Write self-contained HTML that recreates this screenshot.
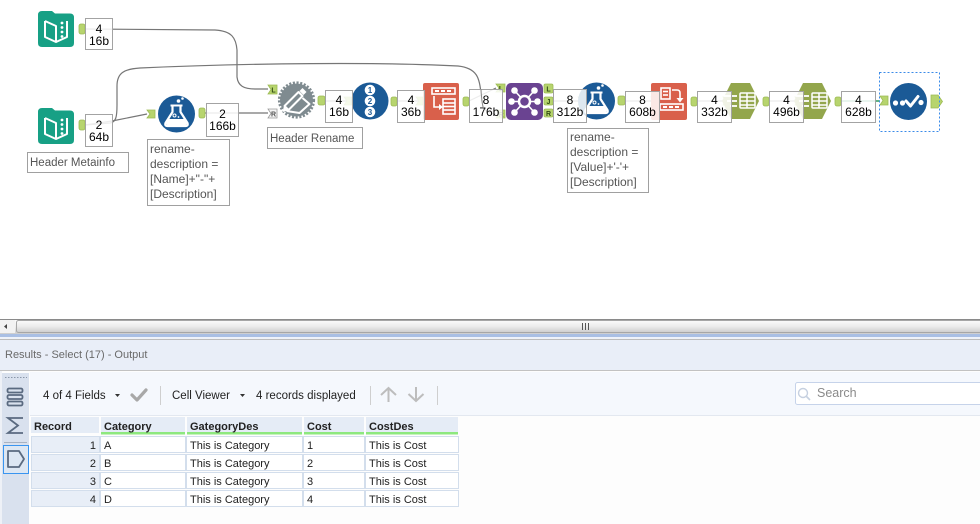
<!DOCTYPE html>
<html><head><meta charset="utf-8"><style>
html,body{margin:0;padding:0;background:#fff;}
svg{display:block;font-family:"Liberation Sans",sans-serif;}
</style></head><body>
<svg width="980" height="524" viewBox="0 0 980 524" xmlns="http://www.w3.org/2000/svg">
<defs>
<linearGradient id="sb" x1="0" y1="0" x2="0" y2="1"><stop offset="0" stop-color="#fbfbfb"/><stop offset="0.5" stop-color="#ebebeb"/><stop offset="1" stop-color="#cdcdcd"/></linearGradient>
</defs>
<rect width="980" height="524" fill="#fff"/>

<!-- ===== connections ===== -->
<g fill="none" stroke="#767676" stroke-width="1.2">
<path d="M85,29 L215,30 C232,31 236,38 237,50 L237,77 C238,86 244,89 255,89 L268,89"/>
<path d="M85,125 L110,123 C116,122 117,117 117,105 L117,86 C117,73 124,69 140,68 C250,63 380,62 458,66 C477,68 480,78 481,95 C482,108 486,114 496,114"/>
<path d="M85,125 L112,121 L147,114"/>
<path d="M205,113 L268,113"/>
<path d="M325,101 L352,101"/>
<path d="M397,101 L424,101"/>
<path d="M469,101 L496,88"/>
<path d="M553,101 L586,101"/>
<path d="M625,101 L659,101"/>
<path d="M697,101 L731,101"/>
<path d="M769,101 L803,101"/>
</g>
<path d="M841,101 L880,101" stroke="#2e9a5c" stroke-width="1.5" fill="none"/>

<!-- ===== anchors ===== -->
<g fill="#b7d46e" stroke="#9dbb55" stroke-width="0.8">
<rect x="79" y="24" width="6" height="10" rx="2"/>
<rect x="79" y="120" width="6" height="10" rx="2"/>
<path d="M147,110 h8 v8 h-8 l3,-4 z"/>
<rect x="199" y="108" width="6" height="10" rx="2"/>
<path d="M268,85 h9 v9 h-9 l3,-4.5 z"/>
<rect x="318" y="96" width="7" height="9" rx="2"/>
<path d="M344,97 h8 v8 h-8 l3,-4 z"/>
<rect x="391" y="97" width="6" height="9" rx="2"/>
<path d="M416,97 h7 v8 h-7 l3,-4 z"/>
<rect x="463" y="97" width="6" height="9" rx="2"/>
<path d="M496,84 h9 v8 h-9 l3,-4 z"/>
<path d="M496,110 h9 v8 h-9 l3,-4 z"/>
<rect x="544" y="84" width="9" height="9" rx="1.5"/>
<rect x="544" y="97" width="9" height="8" rx="1.5"/>
<rect x="544" y="109" width="9" height="8" rx="1.5"/>
<path d="M578,97 h8 v8 h-8 l3,-4 z"/>
<rect x="618" y="96" width="7" height="9" rx="2"/>
<path d="M651,97 h8 v8 h-8 l3,-4 z"/>
<rect x="691" y="97" width="6" height="9" rx="2"/>
<path d="M723,97 h8 v8 h-8 l3,-4 z"/>
<rect x="763" y="97" width="6" height="9" rx="2"/>
<path d="M795,97 h8 v8 h-8 l3,-4 z"/>
<rect x="835" y="97" width="6" height="9" rx="2"/>
<path d="M880,96 h8 v9 h-8 l3,-4.5 z"/>
<path d="M931,95 L938,95 L942.5,101.5 L938,108 L931,108 Z"/>
</g>
<path d="M268,109 h9 v9 h-9 l3,-4.5 z" fill="#f4f4f4" stroke="#9a9a9a" stroke-width="0.8"/>
<g font-size="7" font-weight="bold" fill="#2f4a12" text-anchor="middle">
<text x="273.5" y="92.5">L</text>
<text x="273.5" y="116.5" fill="#555">R</text>
<text x="548.5" y="91.5">L</text>
<text x="548.5" y="104">J</text>
<text x="548.5" y="116">R</text>
<text x="501" y="91">L</text>
<text x="501" y="117">R</text>
</g>

<!-- ===== input icons (teal) ===== -->
<g transform="translate(38,11)">
<path d="M0,4 Q0,0 4,0 L14,0 L17,2.5 L32,2.5 Q36,2.5 36,6.5 L36,32 Q36,36 32,36 L4,36 Q0,36 0,32 Z" fill="#17a085"/>
<path d="M7,10 L7,26 L18,31 L29,26 L29,10" fill="none" stroke="#fff" stroke-width="2" stroke-linejoin="round"/>
<path d="M7,10 L18,15 L18,31" fill="none" stroke="#fff" stroke-width="2" stroke-linejoin="round"/>
<g fill="#fff"><circle cx="24" cy="12" r="1.4"/><circle cx="24" cy="16.5" r="1.4"/><circle cx="24" cy="21" r="1.4"/><circle cx="24" cy="25.5" r="1.4"/></g>
</g>
<g transform="translate(38,108)">
<path d="M0,4 Q0,0 4,0 L14,0 L17,2.5 L32,2.5 Q36,2.5 36,6.5 L36,32 Q36,36 32,36 L4,36 Q0,36 0,32 Z" fill="#17a085"/>
<path d="M7,10 L7,26 L18,31 L29,26 L29,10" fill="none" stroke="#fff" stroke-width="2" stroke-linejoin="round"/>
<path d="M7,10 L18,15 L18,31" fill="none" stroke="#fff" stroke-width="2" stroke-linejoin="round"/>
<g fill="#fff"><circle cx="24" cy="12" r="1.4"/><circle cx="24" cy="16.5" r="1.4"/><circle cx="24" cy="21" r="1.4"/><circle cx="24" cy="25.5" r="1.4"/></g>
</g>

<!-- ===== formula icons ===== -->
<g transform="translate(176.5,114)">
<circle r="18.5" fill="#1b5a96"/>
<path d="M-4,-8 L-4,-2 L-11,9 Q-12,12 -9,12 L9,12 Q12,12 11,9 L4,-2 L4,-8" fill="none" stroke="#fff" stroke-width="2.2" stroke-linejoin="round"/>
<path d="M-8,5 L8,5 L10,9 Q11,11 9,11 L-9,11 Q-11,11 -10,9 Z" fill="#fff"/>
<line x1="-6" y1="-8.5" x2="6" y2="-8.5" stroke="#fff" stroke-width="2"/>
<circle cx="2" cy="-13" r="1.8" fill="#fff"/><circle cx="6" cy="-15.5" r="1.3" fill="#fff"/>
<circle cx="-2" cy="1.5" r="1.5" fill="none" stroke="#fff"/><circle cx="2" cy="3" r="0.9" fill="#fff"/>
</g>
<g transform="translate(596.5,101)">
<circle r="18.5" fill="#1b5a96"/>
<path d="M-4,-8 L-4,-2 L-11,9 Q-12,12 -9,12 L9,12 Q12,12 11,9 L4,-2 L4,-8" fill="none" stroke="#fff" stroke-width="2.2" stroke-linejoin="round"/>
<path d="M-8,5 L8,5 L10,9 Q11,11 9,11 L-9,11 Q-11,11 -10,9 Z" fill="#fff"/>
<line x1="-6" y1="-8.5" x2="6" y2="-8.5" stroke="#fff" stroke-width="2"/>
<circle cx="2" cy="-13" r="1.8" fill="#fff"/><circle cx="6" cy="-15.5" r="1.3" fill="#fff"/>
<circle cx="-2" cy="1.5" r="1.5" fill="none" stroke="#fff"/><circle cx="2" cy="3" r="0.9" fill="#fff"/>
</g>

<!-- ===== dynamic rename ===== -->
<g transform="translate(296.5,100)">
<circle r="16.5" fill="#7f8b90"/>
<circle r="17.3" fill="none" stroke="#7f8b90" stroke-width="2.6" stroke-dasharray="2.1 1.6"/>
<path d="M-12,6 L2,-8 L6,-4 L-8,10 Z" fill="none" stroke="#fff" stroke-width="2" stroke-linejoin="round"/>
<path d="M3,-9 L6,-12 L10,-8 L7,-5 Z" fill="#fff"/>
<path d="M-12,7 L-13,11 L-9,10" fill="#fff" stroke="#fff" stroke-width="1.5"/>
<path d="M-10,11 L3,13 L13,4 L6,-2" fill="none" stroke="#fff" stroke-width="2" stroke-linejoin="round"/>
</g>

<!-- ===== record id ===== -->
<g transform="translate(370,101)">
<circle r="18.5" fill="#1b5a96"/>
<g fill="#fff"><circle cy="-11" r="5.3"/><circle r="5.3"/><circle cy="11" r="5.3"/></g>
<g fill="#1b5a96" font-size="8" font-weight="bold" text-anchor="middle">
<text y="-8">1</text><text y="3">2</text><text y="14">3</text></g>
</g>

<!-- ===== red icon 1 ===== -->
<rect x="423" y="83" width="36" height="37" rx="2" fill="#d9604b"/>
<g stroke="#fff" fill="none" stroke-width="1.6">
<rect x="432" y="88" width="23" height="6"/>
<path d="M434,96 L434,107 L440,107"/>
<rect x="443" y="99" width="12" height="15"/>
<line x1="443" y1="103" x2="455" y2="103"/><line x1="443" y1="106.5" x2="455" y2="106.5"/><line x1="443" y1="110" x2="455" y2="110"/>
</g>
<path d="M439,104 L443,107 L439,110 Z" fill="#fff"/>
<g fill="#fff"><rect x="435" y="90" width="4" height="2"/><rect x="441" y="90" width="4" height="2"/><rect x="447" y="90" width="4" height="2"/></g>

<!-- ===== join ===== -->
<rect x="506" y="83" width="37" height="37" rx="5" fill="#6a4391"/>
<g transform="translate(524.5,101.5)" stroke="#fff" fill="#fff">
<g stroke-width="1.6"><line x1="-10" y1="-11" x2="10" y2="11"/><line x1="10" y1="-11" x2="-10" y2="11"/><line x1="-13" y1="0" x2="13" y2="0"/></g>
<circle r="5.5" fill="#6a4391" stroke-width="2.5"/>
<g stroke="none"><circle cx="-10" cy="-11" r="3.3"/><circle cx="10" cy="-11" r="3.3"/><circle cx="13" cy="0" r="3.3"/><circle cx="-13" cy="0" r="3.3"/><circle cx="10" cy="11" r="3.3"/><circle cx="-10" cy="11" r="3.3"/></g>
</g>

<!-- ===== red icon 2 ===== -->
<rect x="651" y="83" width="36" height="37" rx="2" fill="#d9604b"/>
<g stroke="#fff" fill="none" stroke-width="1.6">
<rect x="661" y="88" width="9" height="11"/>
<line x1="663" y1="91.5" x2="668" y2="91.5"/><line x1="663" y1="95" x2="668" y2="95"/>
<path d="M672,90 L677,90 Q680,90 680,93 L680,99"/>
<rect x="660" y="104" width="23" height="6"/>
</g>
<path d="M676.5,98 L683.5,98 L680,102.5 Z" fill="#fff"/>
<g fill="#fff"><rect x="663" y="106" width="4" height="2"/><rect x="669" y="106" width="4" height="2"/><rect x="675" y="106" width="4" height="2"/></g>

<!-- ===== hexagons ===== -->
<g>
<polygon points="722,101 731,83 750,83 759,101 750,119 731,119" fill="#93a64c"/>
<g stroke="#fff" stroke-width="1.8"><line x1="724" y1="96" x2="737" y2="96"/><line x1="727" y1="101" x2="737" y2="101"/><line x1="730" y1="106" x2="737" y2="106"/></g>
<g stroke="#fff" fill="none" stroke-width="1.5"><rect x="740" y="93" width="15" height="15" rx="1"/><line x1="740" y1="97" x2="755" y2="97"/><line x1="740" y1="101" x2="755" y2="101"/><line x1="740" y1="105" x2="755" y2="105"/><line x1="747" y1="93" x2="747" y2="108"/></g>
</g>
<g>
<polygon points="794,101 803,83 822,83 831,101 822,119 803,119" fill="#93a64c"/>
<g stroke="#fff" stroke-width="1.8"><line x1="796" y1="96" x2="809" y2="96"/><line x1="799" y1="101" x2="809" y2="101"/><line x1="802" y1="106" x2="809" y2="106"/></g>
<g stroke="#fff" fill="none" stroke-width="1.5"><rect x="812" y="93" width="15" height="15" rx="1"/><line x1="812" y1="97" x2="827" y2="97"/><line x1="812" y1="101" x2="827" y2="101"/><line x1="812" y1="105" x2="827" y2="105"/><line x1="819" y1="93" x2="819" y2="108"/></g>
</g>

<!-- ===== select ===== -->
<rect x="879.5" y="72.5" width="60" height="59" fill="none" stroke="#3b8be8" stroke-dasharray="2 2"/>
<circle cx="908.5" cy="101.5" r="18.5" fill="#1b5a96"/>
<g fill="#fff"><circle cx="895.5" cy="103" r="2.6"/><circle cx="902.5" cy="103" r="2.6"/><circle cx="921" cy="102.5" r="2.6"/></g>
<path d="M906,101 L910.5,106 L918,96.5" fill="none" stroke="#fff" stroke-width="3" stroke-linecap="round" stroke-linejoin="round"/>

<!-- ===== count boxes ===== -->
<g font-size="12" fill="#000" text-anchor="middle">
<g fill="#fff" fill-opacity="0.86" stroke="#a3a3a3">
<rect x="85.5" y="18.5" width="27" height="31"/>
<rect x="85.5" y="114.5" width="27" height="32"/>
<rect x="206.5" y="103.5" width="32" height="33"/>
<rect x="325.5" y="90.5" width="27" height="32"/>
<rect x="397.5" y="90.5" width="27" height="32"/>
<rect x="469.5" y="89.5" width="33" height="33"/>
<rect x="553.5" y="89.5" width="33" height="33"/>
<rect x="625.5" y="91.5" width="34" height="31"/>
<rect x="697.5" y="91.5" width="34" height="31"/>
<rect x="769.5" y="91.5" width="34" height="31"/>
<rect x="841.5" y="91.5" width="34" height="31"/>
</g>
<text x="99" y="33">4</text><text x="99" y="45">16b</text>
<text x="99" y="129">2</text><text x="99" y="141">64b</text>
<text x="222.5" y="118">2</text><text x="222.5" y="130">166b</text>
<text x="339" y="104">4</text><text x="339" y="116">16b</text>
<text x="411" y="104">4</text><text x="411" y="116">36b</text>
<text x="486" y="104">8</text><text x="486" y="116">176b</text>
<text x="570" y="104">8</text><text x="570" y="116">312b</text>
<text x="642.5" y="104">8</text><text x="642.5" y="116">608b</text>
<text x="714.5" y="104">4</text><text x="714.5" y="116">332b</text>
<text x="786.5" y="104">4</text><text x="786.5" y="116">496b</text>
<text x="858.5" y="104">4</text><text x="858.5" y="116">628b</text>
</g>
<path d="M481,89 C481.5,98 482,106 484,110" fill="none" stroke="#8a8a8a" stroke-width="1"/>

<!-- ===== annotations ===== -->
<g fill="#fff" stroke="#a0a0a0">
<rect x="27.5" y="152.5" width="101" height="20"/>
<rect x="147.5" y="139.5" width="82" height="66"/>
<rect x="267.5" y="127.5" width="95" height="21"/>
<rect x="567.5" y="128.5" width="81" height="64"/>
</g>
<g font-size="11.5" fill="#555">
<text x="30" y="166">Header Metainfo</text>
<text x="270" y="142">Header Rename</text>
</g>
<g font-size="12" fill="#555">
<text x="150" y="153">rename-</text>
<text x="150" y="168">description =</text>
<text x="150" y="183">[Name]+"-"+</text>
<text x="150" y="198">[Description]</text>
<text x="570" y="141">rename-</text>
<text x="570" y="156">description =</text>
<text x="570" y="171">[Value]+'-'+</text>
<text x="570" y="186">[Description]</text>
</g>

<!-- ===== scrollbar ===== -->
<rect x="0" y="320" width="980" height="14" fill="url(#sb)"/>
<line x1="0" y1="319.5" x2="980" y2="319.5" stroke="#8a8a8a"/>
<rect x="0" y="320" width="15" height="13" fill="#f2f2f2"/>
<path d="M4,326.5 L7,324 L7,329 Z" fill="#444"/>
<rect x="16.5" y="320.5" width="970" height="12" rx="2" fill="url(#sb)" stroke="#a6a6a6"/>
<g stroke="#555" stroke-width="1"><line x1="582.5" y1="323" x2="582.5" y2="330"/><line x1="585.5" y1="323" x2="585.5" y2="330"/><line x1="588.5" y1="323" x2="588.5" y2="330"/></g>
<rect x="0" y="334" width="980" height="3" fill="#a9bfe4"/>
<rect x="0" y="337" width="980" height="2" fill="#eef2f9"/>
<line x1="0" y1="339.5" x2="980" y2="339.5" stroke="#bcbcbc"/>
<rect x="0" y="340" width="980" height="30" fill="#e9eef8"/>
<line x1="0" y1="370.5" x2="980" y2="370.5" stroke="#c2c2c2"/>
<text x="5" y="358" font-size="11" fill="#6a6a6a">Results - Select (17) - Output</text>

<!-- ===== lower panel ===== -->
<rect x="0" y="371" width="980" height="153" fill="#fdfdfd"/>
<rect x="30" y="372" width="950" height="44" fill="#f5f8fd"/>
<line x1="30" y1="415.5" x2="980" y2="415.5" stroke="#e3e8f0"/>
<rect x="0" y="371" width="2" height="153" fill="#eef1f7"/>
<rect x="2" y="373" width="27" height="151" fill="#d9e1ee"/>
<!-- sidebar -->
<line x1="5" y1="377.5" x2="27" y2="377.5" stroke="#8a96a8" stroke-dasharray="1.5 1.5"/>
<g fill="none" stroke="#5a6a80" stroke-width="1.8">
<rect x="7.5" y="388.5" width="15" height="4" rx="1.5"/>
<rect x="7.5" y="395" width="15" height="4" rx="1.5"/>
<rect x="7.5" y="401.5" width="15" height="4" rx="1.5"/>
<path d="M23,418 L8,418 L18,425.5 L8,433 L23,433"/>
</g>
<line x1="4" y1="442.5" x2="27" y2="442.5" stroke="#a8b2c2"/>
<rect x="3.5" y="445.5" width="25" height="28" fill="#dde7f3" stroke="#3a95f0"/>
<path d="M8,451 L19,451 L24,459 L19,467 L8,467 Z" fill="none" stroke="#5a6a80" stroke-width="1.8" stroke-linejoin="round"/>

<!-- toolbar -->
<g font-size="11.5" fill="#222">
<text x="43" y="399">4 of 4 Fields</text>
<text x="172" y="399">Cell Viewer</text>
<text x="256" y="399">4 records displayed</text>
</g>
<path d="M115,394 L120,394 L117.5,397 Z" fill="#333"/>
<path d="M240,394 L245,394 L242.5,397 Z" fill="#333"/>
<path d="M132,395 L137,400 L146,390" fill="none" stroke="#a8a8a8" stroke-width="3.2" stroke-linecap="round" stroke-linejoin="round"/>
<g stroke="#cfcfcf"><line x1="160.5" y1="386" x2="160.5" y2="405"/><line x1="370.5" y1="386" x2="370.5" y2="405"/><line x1="437.5" y1="386" x2="437.5" y2="405"/></g>
<g fill="none" stroke="#bdbdbd" stroke-width="2">
<path d="M388.5,402 L388.5,388 M381,395 L388.5,388 L396,395"/>
<path d="M416,387 L416,401 M408.5,394 L416,401 L423.5,394"/>
</g>
<!-- search -->
<rect x="795.5" y="382.5" width="190" height="22" rx="2" fill="#fff" stroke="#c6d3ea"/>
<circle cx="803" cy="393" r="4.5" fill="none" stroke="#c6d0e0" stroke-width="1.4"/>
<line x1="806.5" y1="396.5" x2="810" y2="400" stroke="#c6d0e0" stroke-width="1.6"/>
<text x="817" y="397" font-size="12.5" fill="#8a8a8a">Search</text>

<!-- table -->
<g fill="#e5ecf6">
<rect x="31" y="417" width="68" height="16"/>
<rect x="101" y="417" width="84" height="16"/>
<rect x="187" y="417" width="115" height="16"/>
<rect x="304" y="417" width="60" height="16"/>
<rect x="366" y="417" width="92" height="16"/>
</g>
<g fill="#8ee87e">
<rect x="101" y="432" width="84" height="2.5"/>
<rect x="187" y="432" width="115" height="2.5"/>
<rect x="304" y="432" width="60" height="2.5"/>
<rect x="366" y="432" width="92" height="2.5"/>
</g>
<g stroke="#d3deec" fill="#fff">
<rect x="31.5" y="436.5" width="68" height="16" fill="#e8eef7"/>
<rect x="31.5" y="454.5" width="68" height="16" fill="#e8eef7"/>
<rect x="31.5" y="472.5" width="68" height="16" fill="#e8eef7"/>
<rect x="31.5" y="490.5" width="68" height="16" fill="#e8eef7"/>
<rect x="100.5" y="436.5" width="85" height="16"/><rect x="186.5" y="436.5" width="116" height="16"/><rect x="303.5" y="436.5" width="61" height="16"/><rect x="365.5" y="436.5" width="93" height="16"/>
<rect x="100.5" y="454.5" width="85" height="16"/><rect x="186.5" y="454.5" width="116" height="16"/><rect x="303.5" y="454.5" width="61" height="16"/><rect x="365.5" y="454.5" width="93" height="16"/>
<rect x="100.5" y="472.5" width="85" height="16"/><rect x="186.5" y="472.5" width="116" height="16"/><rect x="303.5" y="472.5" width="61" height="16"/><rect x="365.5" y="472.5" width="93" height="16"/>
<rect x="100.5" y="490.5" width="85" height="16"/><rect x="186.5" y="490.5" width="116" height="16"/><rect x="303.5" y="490.5" width="61" height="16"/><rect x="365.5" y="490.5" width="93" height="16"/>
</g>
<g font-size="11" font-weight="bold" fill="#222">
<text x="34" y="430">Record</text>
<text x="104" y="430">Category</text>
<text x="190" y="430">GategoryDes</text>
<text x="307" y="430">Cost</text>
<text x="369" y="430">CostDes</text>
</g>
<g font-size="11" fill="#222">
<g text-anchor="end"><text x="96" y="449">1</text><text x="96" y="467">2</text><text x="96" y="485">3</text><text x="96" y="503">4</text></g>
<text x="104" y="449">A</text><text x="190" y="449">This is Category</text><text x="307" y="449">1</text><text x="369" y="449">This is Cost</text>
<text x="104" y="467">B</text><text x="190" y="467">This is Category</text><text x="307" y="467">2</text><text x="369" y="467">This is Cost</text>
<text x="104" y="485">C</text><text x="190" y="485">This is Category</text><text x="307" y="485">3</text><text x="369" y="485">This is Cost</text>
<text x="104" y="503">D</text><text x="190" y="503">This is Category</text><text x="307" y="503">4</text><text x="369" y="503">This is Cost</text>
</g>
</svg>
</body></html>
